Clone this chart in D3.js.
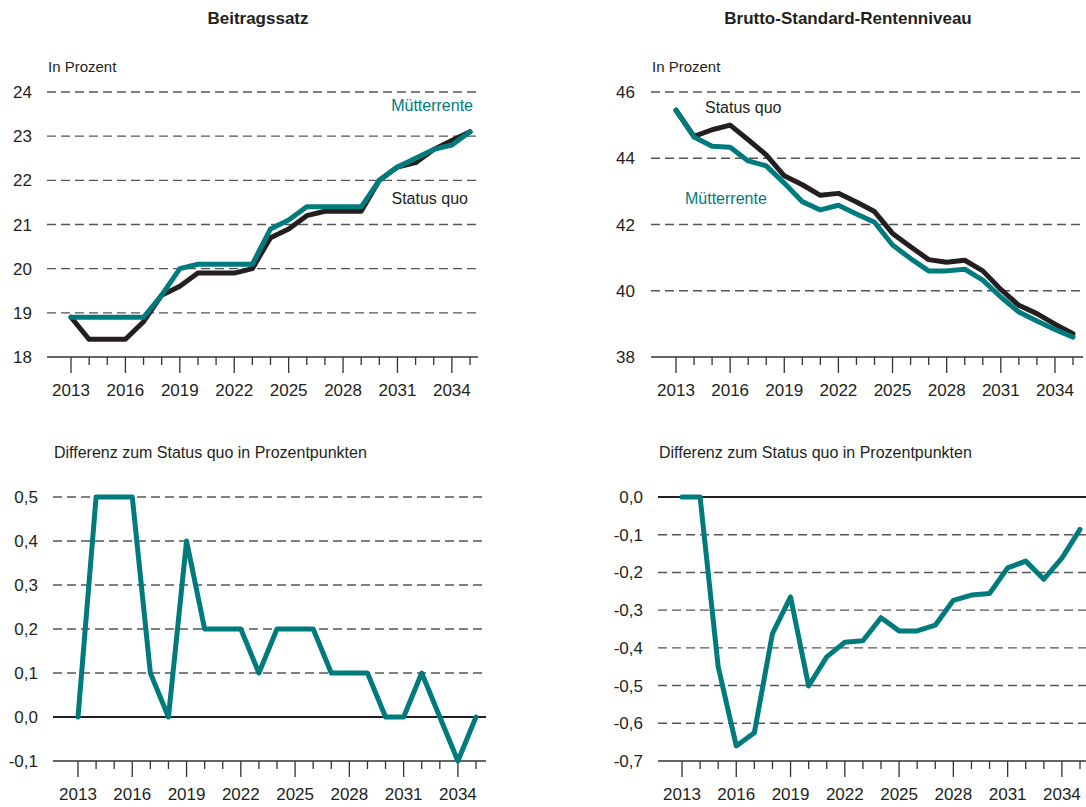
<!DOCTYPE html>
<html>
<head>
<meta charset="utf-8">
<script src="https://cdn.jsdelivr.net/npm/d3@7"></script>
<style>
  body { margin: 0; background: #fff; }
  svg { font-family: "Liberation Sans", Arial, sans-serif; }
</style>
</head>
<body>
<svg id="chart" width="1086" height="807"></svg>
<script>
var years = d3.range(2013, 2036);
var yearLabels = [2013, 2016, 2019, 2022, 2025, 2028, 2031, 2034];

// Beitragssatz, in Prozent
var beitragStatusQuo = [18.9, 18.4, 18.4, 18.4, 18.8, 19.4, 19.6, 19.9, 19.9, 19.9, 20.0, 20.7,
                        20.9, 21.2, 21.3, 21.3, 21.3, 22.0, 22.3, 22.4, 22.7, 22.9, 23.1];
var beitragMuetter = [18.9, 18.9, 18.9, 18.9, 18.9, 19.4, 20.0, 20.1, 20.1, 20.1, 20.1, 20.9,
                      21.1, 21.4, 21.4, 21.4, 21.4, 22.0, 22.3, 22.5, 22.7, 22.8, 23.1];
var beitragDiff = [0.0, 0.5, 0.5, 0.5, 0.1, 0.0, 0.4, 0.2, 0.2, 0.2, 0.1, 0.2,
                   0.2, 0.2, 0.1, 0.1, 0.1, 0.0, 0.0, 0.1, 0.0, -0.1, 0.0];

// Brutto-Standard-Rentenniveau, in Prozent
var niveauStatusQuo = [45.45, 44.66, 44.86, 45.0, 44.56, 44.1, 43.47, 43.2, 42.88, 42.94, 42.68, 42.39,
                       41.73, 41.33, 40.94, 40.86, 40.92, 40.6, 40.04, 39.56, 39.31, 38.99, 38.7];
var niveauMuetter = [45.45, 44.64, 44.36, 44.33, 43.92, 43.77, 43.25, 42.69, 42.44, 42.58, 42.32, 42.07,
                     41.38, 40.97, 40.6, 40.6, 40.65, 40.32, 39.81, 39.36, 39.09, 38.83, 38.6];
var niveauDiff = [0.0, 0.0, -0.45, -0.66, -0.625, -0.362, -0.265, -0.501, -0.424, -0.385, -0.381, -0.32,
                  -0.355, -0.355, -0.34, -0.274, -0.26, -0.256, -0.188, -0.17, -0.218, -0.162, -0.086];

var teal = "#007b7d", dark = "#231f20", grid = "#555";

var svg = d3.select("#chart");

function fmt(d, dec) {
  return d3.format("." + dec + "f")(d).replace(".", ",").replace("−", "-");
}

function panel(o) {
  var x = d3.scaleLinear().domain([2013, 2035]).range(o.xr);
  var y = d3.scaleLinear().domain(o.yd).range(o.yr);
  var g = svg.append("g");
  var yTicks = d3.range(o.yd[0], o.yd[1] + o.step / 2, o.step);

  // gridlines, dashed except bottom axis and zero line
  g.selectAll(".grid").data(yTicks.filter(function(d) { return d !== o.yd[0] && Math.abs(d) > 1e-9; }))
    .enter().append("line")
      .attr("x1", o.ax[0]).attr("x2", o.ax[1])
      .attr("y1", function(d) { return y(d); }).attr("y2", function(d) { return y(d); })
      .attr("stroke", grid).attr("stroke-width", 1.4).attr("stroke-dasharray", "9,5");

  if (o.zero) {
    g.append("line").attr("x1", o.ax[0]).attr("x2", o.ax[1])
      .attr("y1", y(0)).attr("y2", y(0))
      .attr("stroke", dark).attr("stroke-width", 2);
  }

  // bottom axis
  g.append("line").attr("x1", o.ax[0]).attr("x2", o.ax[1])
    .attr("y1", y(o.yd[0])).attr("y2", y(o.yd[0]))
    .attr("stroke", "#333").attr("stroke-width", 1.3);
  g.selectAll(".tick").data(years).enter().append("line")
    .attr("x1", function(d) { return x(d); }).attr("x2", function(d) { return x(d); })
    .attr("y1", y(o.yd[0]))
    .attr("y2", function(d) { return y(o.yd[0]) + (yearLabels.indexOf(d) >= 0 ? 16 : 8); })
    .attr("stroke", "#333").attr("stroke-width", 1.3);
  g.selectAll(".xl").data(yearLabels).enter().append("text")
    .attr("x", function(d) { return x(d); })
    .attr("y", y(o.yd[0]) + 39)
    .attr("text-anchor", "middle").attr("font-size", 17).attr("fill", dark)
    .text(function(d) { return d; });

  // y labels
  g.selectAll(".yl").data(yTicks).enter().append("text")
    .attr("x", o.ylx).attr("y", function(d) { return y(d) + 6; })
    .attr("text-anchor", "end").attr("font-size", 17).attr("fill", dark)
    .text(function(d) { return fmt(d, o.dec); });

  g.append("text").attr("x", o.ax[0] + (o.subDx || 1)).attr("y", o.subY)
    .attr("font-size", o.subSize).attr("fill", dark).text(o.sub);

  var line = d3.line().x(function(d, i) { return x(years[i]); }).y(function(d) { return y(d); });
  o.series.forEach(function(s) {
    g.append("path").datum(s.values).attr("d", line)
      .attr("fill", "none").attr("stroke", s.color).attr("stroke-width", 5)
      .attr("stroke-linejoin", "round").attr("stroke-linecap", "round");
  });
  (o.labels || []).forEach(function(l) {
    g.append("text").attr("x", l.x).attr("y", l.y).attr("text-anchor", l.anchor)
      .attr("font-size", 16).attr("fill", l.color).text(l.text);
  });
}

svg.append("text").attr("x", 258).attr("y", 24).attr("text-anchor", "middle")
  .attr("font-size", 17).attr("font-weight", "bold").attr("fill", dark).text("Beitragssatz");
svg.append("text").attr("x", 848).attr("y", 24).attr("text-anchor", "middle")
  .attr("font-size", 17).attr("font-weight", "bold").attr("fill", dark).text("Brutto-Standard-Rentenniveau");

panel({
  xr: [71, 470], ax: [47, 478], yd: [18, 24], yr: [357, 92], step: 1, dec: 0, ylx: 32,
  sub: "In Prozent", subY: 72, subSize: 15,
  series: [{ values: beitragStatusQuo, color: dark }, { values: beitragMuetter, color: teal }],
  labels: [{ text: "Mütterrente", x: 473, y: 111, anchor: "end", color: teal },
           { text: "Status quo", x: 468, y: 204, anchor: "end", color: dark }]
});

panel({
  xr: [676, 1073], ax: [651, 1083], yd: [38, 46], yr: [357, 92], step: 2, dec: 0, ylx: 635,
  sub: "In Prozent", subY: 72, subSize: 15,
  series: [{ values: niveauStatusQuo, color: dark }, { values: niveauMuetter, color: teal }],
  labels: [{ text: "Status quo", x: 705, y: 113, anchor: "start", color: dark },
           { text: "Mütterrente", x: 685, y: 204, anchor: "start", color: teal }]
});

panel({
  xr: [78, 476], ax: [53, 486], yd: [-0.1, 0.5], yr: [761, 497], step: 0.1, dec: 1, ylx: 38,
  sub: "Differenz zum Status quo in Prozentpunkten", subY: 458, subSize: 16, zero: true,
  series: [{ values: beitragDiff, color: teal }]
});

panel({
  xr: [682, 1080], ax: [658, 1086], yd: [-0.7, 0.0], yr: [761, 497], step: 0.1, dec: 1, ylx: 643,
  sub: "Differenz zum Status quo in Prozentpunkten", subY: 458, subSize: 16, zero: true,
  series: [{ values: niveauDiff, color: teal }]
});
</script>
</body>
</html>
